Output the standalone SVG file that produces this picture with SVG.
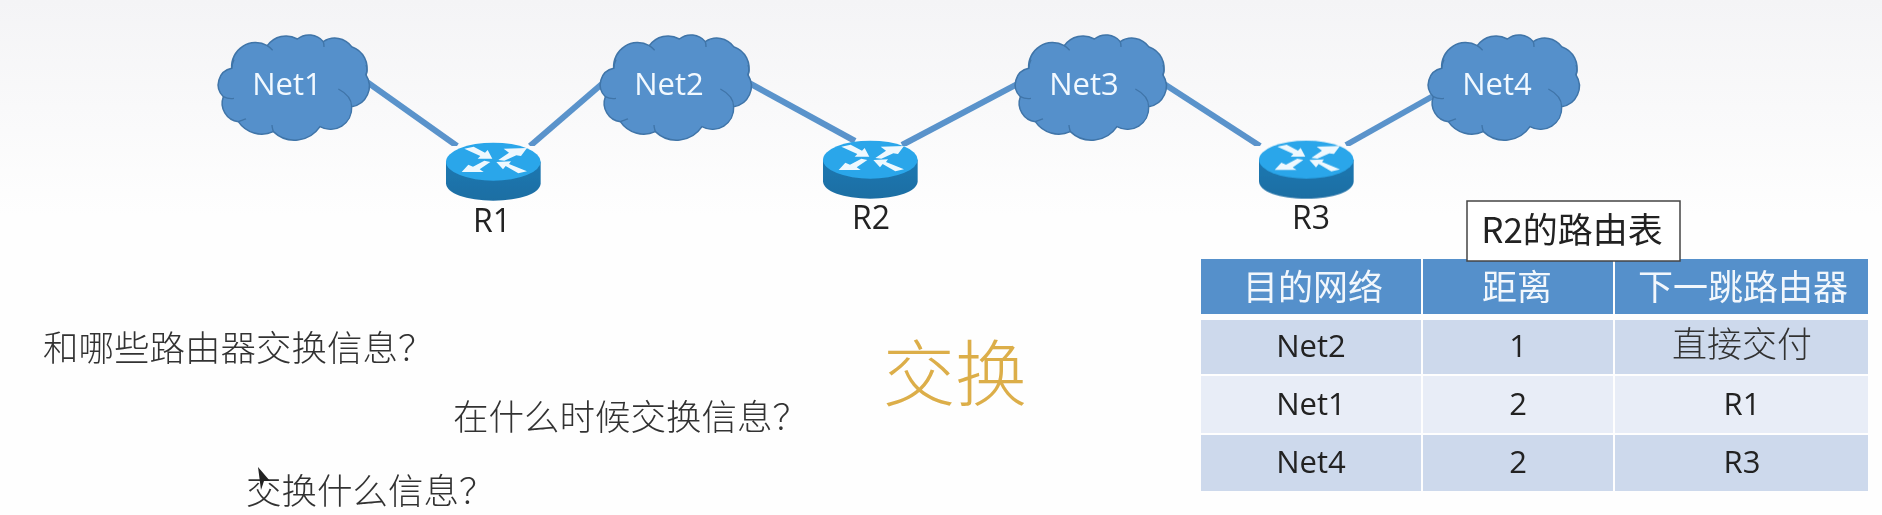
<svg xmlns="http://www.w3.org/2000/svg" width="1882" height="515" viewBox="0 0 1882 515">
<style>
.lbl{font-family:"Open Sans","Noto Sans",sans-serif;font-size:31px;text-anchor:middle}
.net{fill:#f2f9ff}
.r{fill:#222;font-size:32px}
.cjk{font-family:"Noto Sans CJK SC",sans-serif;font-weight:300}
.q{font-size:35.5px;fill:#333}
.tc{font-size:35px;text-anchor:middle;font-weight:400}
.tl{font-family:"Open Sans","Noto Sans CJK SC",sans-serif;font-size:31px;text-anchor:middle;fill:#222}
.link{stroke:#5a93cb;stroke-width:6;fill:none}
.hd{fill:#5590cb}.a{fill:#cdd9ec}.b{fill:#e8edf7}
</style>
<defs>
<filter id="soft" x="0" y="0" width="100%" height="100%"><feGaussianBlur stdDeviation="0.6"/></filter>
<linearGradient id="bg" x1="0" y1="0" x2="0" y2="1"><stop offset="0" stop-color="#f4f4f6"/><stop offset="1" stop-color="#fefefe"/></linearGradient>
<linearGradient id="side" x1="0" y1="0" x2="0" y2="1"><stop offset="0" stop-color="#1b78b2"/><stop offset="1" stop-color="#1f6ea3"/></linearGradient>
<g id="cloud" transform="translate(210,25) scale(.33333)">
<path d="M65,130 A72,72 0 0 1 172,62 A68,68 0 0 1 262,42 A56,56 0 0 1 340,50 A62,62 0 0 1 425,65 A68,68 0 0 1 468,150 A62,62 0 0 1 425,245 A64,64 0 0 1 330,305 A92,92 0 0 1 190,320 A85,85 0 0 1 85,290 A56,56 0 0 1 40,215 A50,50 0 0 1 65,130Z" fill="#5590cb" stroke="#3f74a8" stroke-width="4.5"/>
<path d="M385,192 C410,205 425,225 425,245 M468,150 C472,140 472,130 468,120 M40,215 C50,220 60,222 72,220 M65,130 C66,122 68,112 72,104 M172,62 C178,66 184,72 188,76 M340,50 C342,56 342,60 342,66 M85,290 C90,288 100,285 108,282 M190,320 C188,312 186,308 186,300" fill="none" stroke="#3f74a8" stroke-width="4"/>
</g>
<g id="router" transform="translate(435,130) scale(.33333)">
<path d="M33,95 V160 C33,190 95,212 175,212 C255,212 317,190 317,160 V95Z" fill="url(#side)"/>
<ellipse cx="175" cy="95" rx="142" ry="57" fill="#2aa6ea"/>
<path d="M88,56 L116,50 L150,68 L158,60 L172,86 L128,86 L136,78Z M190,90 L222,68 L206,56 L276,54 L258,78 L244,76 L208,92Z M166,96 L134,118 L146,126 L80,126 L100,104 L114,110 L148,92Z M276,124 L250,130 L212,108 L204,118 L184,96 L228,94 L222,102Z" fill="#eef8fe"/>
</g>
</defs>
<rect width="1882" height="515" fill="#fefefe"/>
<rect width="1882" height="215" fill="url(#bg)"/>
<g id="connectors" filter="url(#soft)">
<line class="link" x1="360" y1="77" x2="457" y2="146"/>
<line class="link" x1="530" y1="146" x2="610" y2="77"/>
<line class="link" x1="740" y1="78" x2="855" y2="141"/>
<line class="link" x1="902" y1="145" x2="1025" y2="80"/>
<line class="link" x1="1155" y1="78" x2="1260" y2="146"/>
<line class="link" x1="1346" y1="145" x2="1442" y2="91"/>
</g>
<g filter="url(#soft)">
<g id="net1"><use href="#cloud"/><text class="lbl net" x="287" y="95">Net1</text></g>
<g id="net2"><use href="#cloud" x="382"/><text class="lbl net" x="669" y="95">Net2</text></g>
<g id="net3"><use href="#cloud" x="797"/><text class="lbl net" x="1084" y="95">Net3</text></g>
<g id="net4"><use href="#cloud" x="1210"/><text class="lbl net" x="1497" y="95">Net4</text></g>
<g id="r1"><use href="#router"/><text class="lbl r" x="492" y="232">R1</text></g>
<g id="r2"><use href="#router" x="377" y="-2"/><text class="lbl r" x="871" y="229">R2</text></g>
<g id="r3"><use href="#router" x="813" y="-2"/><text class="lbl r" x="1311" y="229">R3</text></g>
<g id="table">
<rect class="hd" x="1201" y="259" width="220" height="55"/>
<rect class="hd" x="1423" y="259" width="190" height="55"/>
<rect class="hd" x="1615" y="259" width="253" height="55"/>
<rect class="a" x="1201" y="320" width="220" height="54"/>
<rect class="a" x="1423" y="320" width="190" height="54"/>
<rect class="a" x="1615" y="320" width="253" height="54"/>
<rect class="b" x="1201" y="376" width="220" height="57"/>
<rect class="b" x="1423" y="376" width="190" height="57"/>
<rect class="b" x="1615" y="376" width="253" height="57"/>
<rect class="a" x="1201" y="435" width="220" height="56"/>
<rect class="a" x="1423" y="435" width="190" height="56"/>
<rect class="a" x="1615" y="435" width="253" height="56"/>
<text class="cjk tc" x="1313" y="300" fill="#f2f7fc">目的网络</text>
<text class="cjk tc" x="1517" y="300" fill="#f2f7fc">距离</text>
<text class="cjk tc" x="1743" y="300" fill="#f2f7fc">下一跳路由器</text>
<text class="tl" x="1311" y="357">Net2</text><text class="tl" x="1518" y="357">1</text>
<text class="cjk tc" x="1742" y="357" fill="#333" style="font-weight:300">直接交付</text>
<text class="tl" x="1311" y="415">Net1</text><text class="tl" x="1518" y="415">2</text><text class="tl" x="1742" y="415">R1</text>
<text class="tl" x="1311" y="473">Net4</text><text class="tl" x="1518" y="473">2</text><text class="tl" x="1742" y="473">R3</text>
</g>
<g id="table-title">
<rect x="1467" y="201" width="213" height="60" fill="#fff" stroke="#444" stroke-width="1.5"/>
<text class="cjk" x="1572" y="243" font-size="35" text-anchor="middle" fill="#222" style="font-weight:400">R2的路由表</text>
</g>
<g id="questions">
<text class="cjk q" x="43" y="361">和哪些路由器交换信息？</text>
<text class="cjk q" x="453" y="430">在什么时候交换信息？</text>
<text class="cjk q" x="246" y="504">交换什么信息？</text>
</g>
<text id="exchange" class="cjk" x="955" y="400" font-size="72" text-anchor="middle" fill="#dcae4a">交换</text>
<polygon id="cursor" points="258,467 270,481 264,481 261,490" fill="#222"/>
</g>
</svg>
